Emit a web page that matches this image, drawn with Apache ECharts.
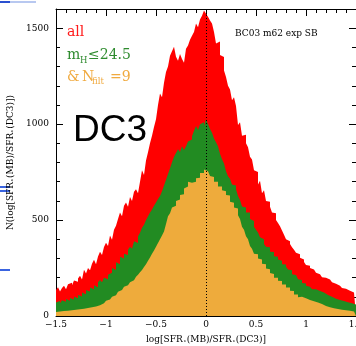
<!DOCTYPE html>
<html><head><meta charset="utf-8">
<script src="https://cdn.jsdelivr.net/npm/echarts@6/dist/echarts.min.js"></script>
<style>html,body{margin:0;padding:0;background:#fff}#c{width:356px;height:346px}</style>
</head><body><div id="c"></div>
<script>
// histogram bins of log[SFR*(MB)/SFR*(DC3)]
const binStart = -1.5;
const binWidth = 0.02;
// all galaxies (red)
const allCounts = [136,150,128,146,158,140,165,173,160,185,
178,196,210,190,241,222,250,238,272,293,
270,310,335,318,360,382,365,420,398,450,
470,505,539,520,575,592,570,620,600,648,
660,640,700,760,735,810,853,900,940,985,
1026,1100,1160,1140,1215,1272,1300,1356,1380,1403,
1351,1330,1365,1340,1320,1393,1410,1440,1461,1480,
1524,1505,1545,1565,1592,1575,1560,1540,1524,1480,
1420,1430,1360,1350,1280,1245,1200,1180,1125,1140,
1094,995,1010,940,945,900,880,830,815,760,
750,685,705,640,655,600,595,570,540,535,
500,485,468,445,424,400,390,375,358,345,
330,322,304,295,282,266,262,250,242,234,
226,218,212,202,200,192,190,180,176,168,
166,158,154,146,142,134,132,124,122,114];
// m_H <= 24.5 (green)
const magCounts = [70,78,66,82,74,88,80,94,86,100,
92,110,102,122,114,136,128,148,140,160,
150,176,188,176,200,192,215,225,250,240,
280,270,309,300,325,318,345,361,350,390,
380,415,434,460,475,500,520,540,555,575,
592,610,625,650,680,710,740,770,801,830,
850,869,855,885,865,885,910,920,937,965,
990,970,1000,1010,990,1026,1000,974,955,925,
906,885,845,817,795,755,728,715,685,680,
660,625,605,571,565,540,539,505,495,465,
450,435,410,400,375,361,358,335,333,312,
309,295,288,270,268,257,242,238,218,214,
204,192,188,172,170,158,152,150,140,140,
132,130,122,122,112,110,102,100,92,90,
84,84,76,78,70,72,64,66,58,60];
// & N_filt = 9 (orange)
const filtCounts = [21,24,20,26,22,28,25,30,27,32,
30,35,33,38,36,42,40,46,44,50,
48,56,60,66,73,80,86,94,100,108,
118,126,136,145,152,160,168,176,186,195,
204,215,228,240,255,270,288,305,325,342,
361,380,400,420,440,480,520,535,565,575,
600,607,630,635,665,675,700,695,695,700,
718,720,745,745,764,755,758,730,725,700,
700,675,675,655,650,630,628,595,590,565,
560,525,505,465,450,415,400,365,350,325,
322,300,295,272,270,248,244,224,219,200,
200,184,182,164,164,148,148,132,130,112,
112,98,100,90,92,82,84,75,77,69,
70,62,63,54,52,44,45,38,40,34,
36,30,32,27,30,24,27,22,24,20];
const xTicks = [-1.5, -1, -0.5, 0, 0.5, 1, 1.5];
const yTicks = [0, 500, 1000, 1500];
const yMax = 1600;
const yMinorStep = 100;

function steps(counts) {
  const d = counts.map((c, i) => [+(binStart + i * binWidth).toFixed(4), c]);
  d.push([+(binStart + counts.length * binWidth).toFixed(4), counts[counts.length - 1]]);
  return d;
}
function hist(name, counts, color, z) {
  return {
    name, type: 'line', step: 'end', data: steps(counts), symbol: 'none', showSymbol: false,
    lineStyle: { width: 0 }, areaStyle: { color, opacity: 1 }, itemStyle: { color },
    z, silent: true, animation: false, clip: true, xAxisIndex: 0, yAxisIndex: 0
  };
}
const serif = 'DejaVu Serif';
const black = '#000';
const tickStyle = { color: black, width: 1 };
function xAxisDef(pos, labels) {
  return {
    type: 'value', position: pos, min: xTicks[0], max: xTicks[xTicks.length - 1],
    interval: xTicks[1] - xTicks[0],
    axisLine: { show: true, onZero: false, lineStyle: { color: black, width: 1 } },
    axisTick: { show: true, inside: true, length: 7, lineStyle: tickStyle },
    minorTick: { show: true, splitNumber: 5, length: 4, lineStyle: tickStyle },
    splitLine: { show: false }, minorSplitLine: { show: false },
    axisLabel: labels ? {
      show: true, margin: 4, fontFamily: serif, fontSize: 9, color: black,
      showMinLabel: true, showMaxLabel: true,
      formatter: v => String(v).replace('-', '\u2212')
    } : { show: false }
  };
}
function yAxisDef(pos, interval, len, labels, line) {
  return {
    type: 'value', position: pos, min: yTicks[0], max: yMax, interval,
    axisLine: { show: line, onZero: false, lineStyle: { color: black, width: 1 } },
    axisTick: { show: true, inside: true, length: len, lineStyle: tickStyle },
    splitLine: { show: false },
    axisLabel: labels ? {
      show: true, margin: 7, fontFamily: serif, fontSize: 9, color: black,
      showMaxLabel: false,
      formatter: v => (yTicks.indexOf(v) >= 0 ? String(v) : '')
    } : { show: false }
  };
}
const xMain = xAxisDef('bottom', true);
xMain.name = 'log[SFR{s|\u22c6}(MB)/SFR{s|\u22c6}(DC3)]';
xMain.nameLocation = 'middle';
xMain.nameGap = 19;
xMain.nameTextStyle = { fontFamily: serif, fontSize: 9, color: black,
  rich: { s: { fontFamily: serif, fontSize: 6, color: black, verticalAlign: 'bottom' } } };
const yMain = yAxisDef('left', 500, 7, true, true);
yMain.name = 'N(log[SFR{s|\u22c6}(MB)/SFR{s|\u22c6}(DC3)])';
yMain.nameLocation = 'middle';
yMain.nameGap = 36;
yMain.nameTextStyle = { fontFamily: serif, fontSize: 9, color: black,
  rich: { s: { fontFamily: serif, fontSize: 6, color: black, verticalAlign: 'bottom' } } };

const chart = echarts.init(document.getElementById('c'), null, { renderer: 'canvas' });
const orange = hist('& N_filt=9', filtCounts, '#EEAB3C', 4);
orange.markLine = {
  silent: true, symbol: ['none', 'none'], animation: false,
  label: { show: false }, emphasis: { disabled: true },
  lineStyle: { type: [1, 2], color: black, width: 1 },
  data: [{ xAxis: 0 }]
};
chart.setOption({
  animation: false,
  backgroundColor: '#fff',
  grid: { left: 56, right: 0, top: 9, bottom: 30, containLabel: false, outerBoundsMode: 'none' },
  xAxis: [xMain, xAxisDef('top', false)],
  yAxis: [yMain, yAxisDef('left', yMinorStep, 4, false, false),
          yAxisDef('right', 500, 7, false, true), yAxisDef('right', yMinorStep, 4, false, false)],
  series: [
    hist('all', allCounts, '#FF0000', 2),
    hist('m_H<=24.5', magCounts, '#228B22', 3),
    orange
  ],
  graphic: [
    { type: 'rect', shape: { x: 0, y: 1, width: 10, height: 2 }, style: { fill: '#2a50d0' }, silent: true },
    { type: 'rect', shape: { x: 10, y: 1, width: 26, height: 2 }, style: { fill: '#b8c8f0' }, silent: true },
    { type: 'rect', shape: { x: 0, y: 186, width: 10, height: 2 }, style: { fill: '#3a64e0' }, silent: true },
    { type: 'rect', shape: { x: 0, y: 190, width: 10, height: 2 }, style: { fill: '#3a64e0' }, silent: true },
    { type: 'rect', shape: { x: 0, y: 269, width: 10, height: 2 }, style: { fill: '#3a64e0' }, silent: true },
    { type: 'text', x: 67, y: 32, silent: true, style: { text: 'all', fill: '#FF1A1A', font: '14px "DejaVu Serif"', verticalAlign: 'middle' } },
    { type: 'text', x: 67, y: 55, silent: true, style: { text: 'm', fill: '#2E8B2E', font: '14px "DejaVu Serif"', verticalAlign: 'middle' } },
    { type: 'text', x: 80, y: 61, silent: true, style: { text: 'H', fill: '#2E8B2E', font: '8.5px "DejaVu Serif"', verticalAlign: 'middle' } },
    { type: 'text', x: 88, y: 55, silent: true, style: { text: '\u226424.5', fill: '#2E8B2E', font: '14px "DejaVu Serif"', verticalAlign: 'middle' } },
    { type: 'text', x: 67, y: 77, silent: true, style: { text: '&', fill: '#F0AA40', font: '14px "DejaVu Serif"', verticalAlign: 'middle' } },
    { type: 'text', x: 82, y: 77, silent: true, style: { text: 'N', fill: '#F0AA40', font: '14px "DejaVu Serif"', verticalAlign: 'middle' } },
    { type: 'text', x: 92, y: 82, silent: true, style: { text: 'filt', fill: '#F0AA40', font: '8.5px "DejaVu Serif"', verticalAlign: 'middle' } },
    { type: 'text', x: 110, y: 77, silent: true, style: { text: '=9', fill: '#F0AA40', font: '14px "DejaVu Serif"', verticalAlign: 'middle' } },
    { type: 'text', x: 73, y: 131, silent: true, style: { text: 'DC3', fill: '#000', font: '37px "Liberation Sans"', verticalAlign: 'middle' } },
    { type: 'text', x: 235, y: 34, silent: true, style: { text: 'BC03 m62 exp SB', fill: '#000', font: '9px "DejaVu Serif"', verticalAlign: 'middle' } }
  ]
});
</script>
</body></html>
